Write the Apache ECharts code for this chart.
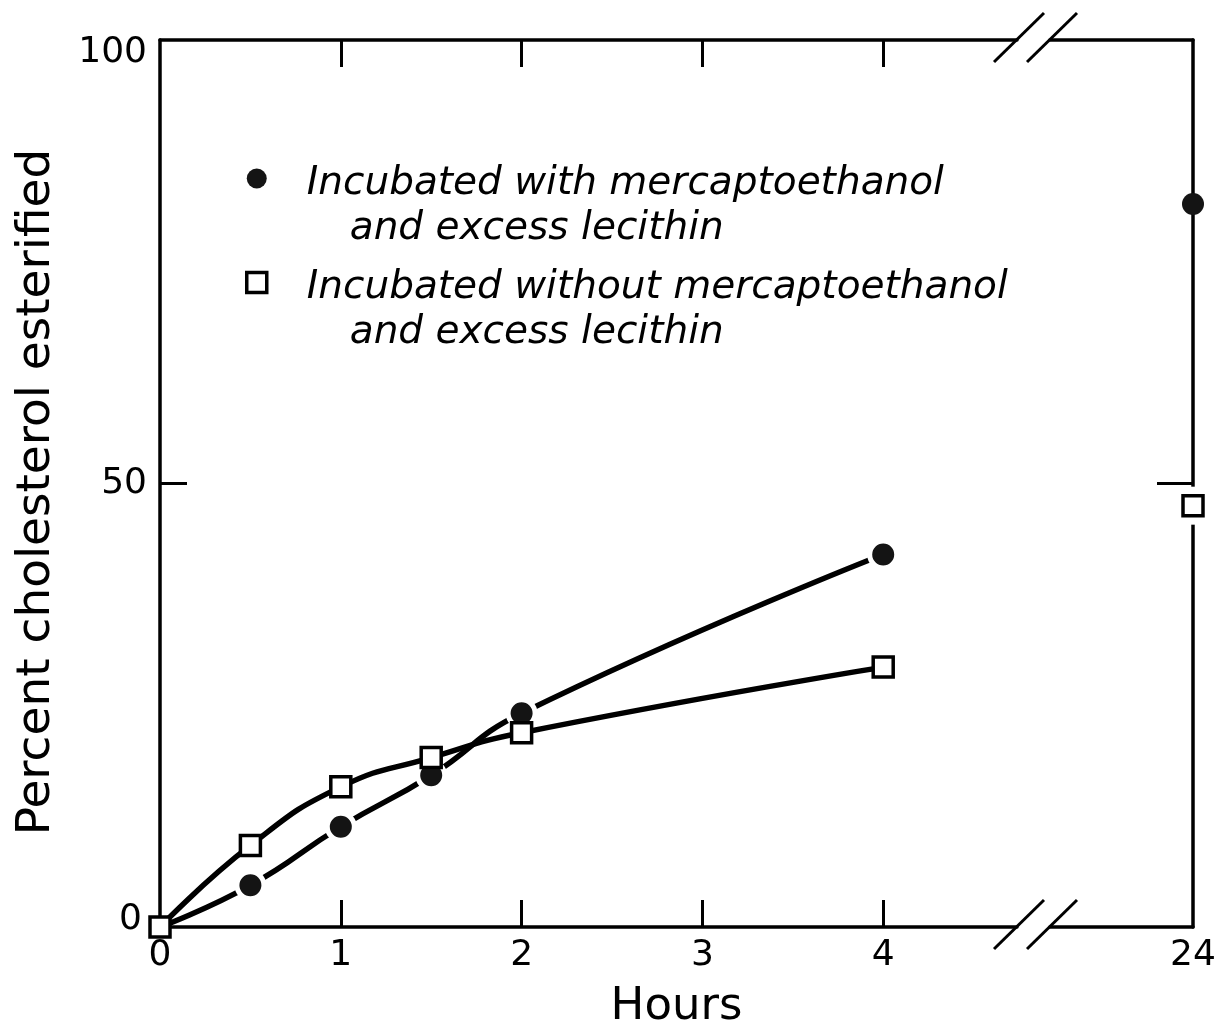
<!DOCTYPE html>
<html>
<head>
<meta charset="utf-8">
<script src="https://cdn.jsdelivr.net/npm/echarts@6/dist/echarts.min.js"></script>
<style>
  html, body { margin: 0; padding: 0; background: #fff; }
  #chart { width: 1220px; height: 1035px; }
</style>
</head>
<body>
<div id="chart"></div>
<script>
// Time course of cholesterol esterification (percent), two incubation conditions
const hours = [0, 0.5, 1, 1.5, 2, 4];
const withMercapto = [0, 4.7, 11.3, 17.1, 24.1, 42.0];
const withoutMercapto = [0, 9.2, 15.8, 19.1, 21.9, 29.3];

// Overnight reading, drawn past the axis break
const lateHour = 24;
const withMercaptoLate = 81.5;
const withoutMercaptoLate = 47.5;

// Tick labels
const xTickLabels = [0, 1, 2, 3, 4];
const xTickMarks = [1, 2, 3, 4];
const lateTickLabels = [24];
const yTickLabels = [0, 50, 100];
const yTickMarks = [50];

const nameWith = 'Incubated with mercaptoethanol';
const nameWithout = 'Incubated without mercaptoethanol';
const nameSecondLine = 'and excess lecithin';

// Layout of the two plot panels (early hours | 24 h), split by a broken axis
const TOP = 40, BOTTOM = 927;
const LEFT = 160, BREAK_L = 1017, BREAK_R = 1050, RIGHT = 1193;
const EARLY_MAX = 4.74;
const LATE_MIN = 23.2;

const FONT = 'DejaVu Sans';
const INK = '#000';
const DOT = '#141414';
const axisLine = { show: true, onZero: false, lineStyle: { color: INK, width: 3.5 } };
const tickStyle = { color: INK, width: 3 };

const chart = echarts.init(document.getElementById('chart'), null, { renderer: 'canvas' });

// "//" marks where the top and bottom frame lines are broken
const breakMarks = [];
[TOP, BOTTOM].forEach(y => {
  [BREAK_L, BREAK_R].forEach(x => {
    breakMarks.push({
      type: 'line',
      shape: { x1: x - 23, y1: y + 22, x2: x + 27, y2: y - 27 },
      style: { stroke: INK, lineWidth: 3 },
      z: 10
    });
  });
});

const option = {
  backgroundColor: '#fff',
  animation: false,
  grid: [
    { left: LEFT, top: TOP, width: BREAK_L - LEFT, height: BOTTOM - TOP },
    { left: BREAK_R, top: TOP, width: RIGHT - BREAK_R, height: BOTTOM - TOP }
  ],
  xAxis: [
    {
      type: 'value', gridIndex: 0, position: 'bottom', min: 0, max: EARLY_MAX,
      axisLine: axisLine,
      axisTick: { show: true, inside: true, length: 27, customValues: xTickMarks, lineStyle: tickStyle },
      axisLabel: { customValues: xTickLabels, fontSize: 36, fontFamily: FONT, color: INK, margin: 11 },
      splitLine: { show: false },
      name: 'Hours', nameLocation: 'middle', nameGap: 58,
      nameTextStyle: { fontSize: 45, fontFamily: FONT, color: INK, padding: [0, 0, 0, 176] }
    },
    {
      type: 'value', gridIndex: 0, position: 'top', min: 0, max: EARLY_MAX,
      axisLine: axisLine,
      axisTick: { show: true, inside: true, length: 27, customValues: xTickMarks, lineStyle: tickStyle },
      axisLabel: { show: false },
      splitLine: { show: false }
    },
    {
      type: 'value', gridIndex: 1, position: 'bottom', min: LATE_MIN, max: lateHour,
      axisLine: axisLine,
      axisTick: { show: false },
      axisLabel: { customValues: lateTickLabels, fontSize: 36, fontFamily: FONT, color: INK, margin: 11 },
      splitLine: { show: false }
    },
    {
      type: 'value', gridIndex: 1, position: 'top', min: LATE_MIN, max: lateHour,
      axisLine: axisLine,
      axisTick: { show: false },
      axisLabel: { show: false },
      splitLine: { show: false }
    }
  ],
  yAxis: [
    {
      type: 'value', gridIndex: 0, position: 'left', min: 0, max: 100,
      axisLine: axisLine,
      axisTick: { show: true, inside: true, length: 27, customValues: yTickMarks, lineStyle: tickStyle },
      axisLabel: {
        customValues: yTickLabels, fontSize: 36, fontFamily: FONT, color: INK, margin: 13,
        formatter: v => v === 100 ? '{hi|100}' : (v === 0 ? '{lo|0}' : String(v)),
        rich: {
          hi: { fontSize: 36, fontFamily: FONT, color: INK, padding: [26, 0, 0, 0] },
          lo: { fontSize: 36, fontFamily: FONT, color: INK, padding: [0, 5, 14, 0] }
        }
      },
      splitLine: { show: false },
      name: 'Percent cholesterol esterified', nameLocation: 'middle', nameRotate: 90, nameGap: 100,
      nameTextStyle: { fontSize: 47, fontFamily: FONT, color: INK, padding: [0, 17, 0, 0] }
    },
    {
      type: 'value', gridIndex: 1, position: 'right', min: 0, max: 100,
      axisLine: axisLine,
      axisTick: { show: true, inside: true, length: 36, customValues: yTickMarks, lineStyle: tickStyle },
      axisLabel: { show: false },
      splitLine: { show: false }
    }
  ],
  legend: {
    orient: 'vertical', left: 245, top: 106, padding: 0, itemGap: -41,
    itemWidth: 20, itemHeight: 20, selectedMode: false,
    data: [
      { name: nameWith, icon: 'circle', itemStyle: { color: DOT, borderWidth: 0, opacity: 1 } },
      { name: nameWithout, icon: 'rect', itemStyle: { color: '#fff', borderColor: INK, borderWidth: 3.5, opacity: 1 } }
    ],
    formatter: name => '{a|' + name + '}\n{b|' + nameSecondLine + '}',
    textStyle: {
      fontSize: 39, fontStyle: 'italic', fontFamily: FONT, color: INK, lineHeight: 45,
      padding: [55, 0, 0, 35],
      rich: {
        a: { fontSize: 39, fontStyle: 'italic', fontFamily: FONT, color: INK, lineHeight: 45 },
        b: { fontSize: 39, fontStyle: 'italic', fontFamily: FONT, color: INK, lineHeight: 45, padding: [0, 0, 0, 43] }
      }
    }
  },
  series: [
    {
      name: nameWith, type: 'line', xAxisIndex: 0, yAxisIndex: 0, z: 2,
      smooth: 0.5,
      symbol: 'circle', symbolSize: 27,
      itemStyle: { color: DOT, borderColor: '#fff', borderWidth: 5, opacity: 1 },
      lineStyle: { color: INK, width: 5.5 },
      data: hours.map((h, i) => i === 0 ? { value: [h, withMercapto[i]], symbol: 'none' } : [h, withMercapto[i]])
    },
    {
      name: nameWithout, type: 'line', xAxisIndex: 0, yAxisIndex: 0, z: 3,
      smooth: 0.5,
      symbol: 'rect', symbolSize: 20,
      itemStyle: { color: '#fff', borderColor: INK, borderWidth: 3.5, opacity: 1 },
      lineStyle: { color: INK, width: 5.5 },
      data: hours.map((h, i) => [h, withoutMercapto[i]])
    },
    {
      name: nameWith, type: 'scatter', xAxisIndex: 2, yAxisIndex: 1, z: 3,
      symbol: 'circle', symbolSize: 22,
      itemStyle: { color: DOT, opacity: 1 },
      data: [[lateHour, withMercaptoLate]]
    },
    {
      // white clearing behind the 24 h square, opening the frame line around it
      name: 'clearing', type: 'scatter', xAxisIndex: 2, yAxisIndex: 1, z: 3, silent: true,
      symbol: 'rect', symbolSize: [24, 38],
      itemStyle: { color: '#fff', opacity: 1 },
      data: [[lateHour, withoutMercaptoLate]]
    },
    {
      name: nameWithout, type: 'scatter', xAxisIndex: 2, yAxisIndex: 1, z: 4,
      symbol: 'rect', symbolSize: 20,
      itemStyle: { color: '#fff', borderColor: INK, borderWidth: 3.5, opacity: 1 },
      data: [[lateHour, withoutMercaptoLate]]
    }
  ],
  graphic: breakMarks
};

chart.setOption(option);
</script>
</body>
</html>
